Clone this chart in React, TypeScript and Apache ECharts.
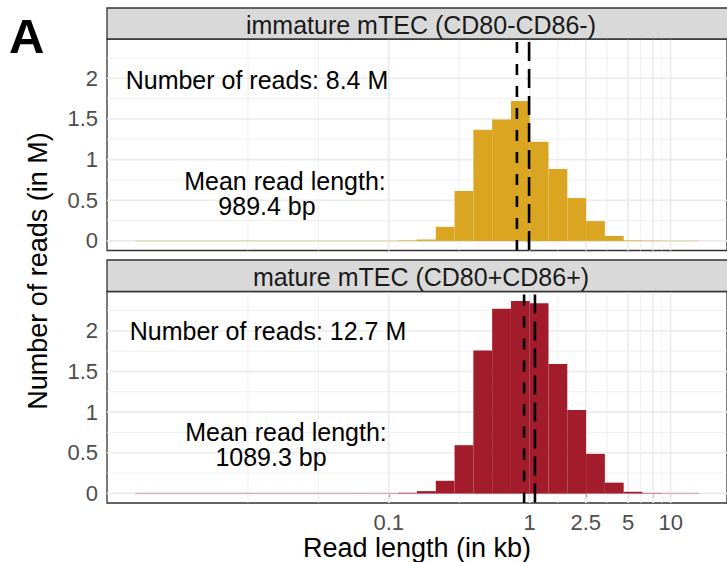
import React, { useEffect, useRef } from "react";
import * as echarts from "echarts";

// Facet titles and fill colours
const panelTitles = ["immature mTEC (CD80-CD86-)", "mature mTEC (CD80+CD86+)"];
const panelColors = ["#DAA520", "#A31C2B"];

// Histogram bins: 30 equal steps on log10(read length in kb)
const binLowLog10 = -2.8;
const binHighLog10 = 1.2;

// Reads per bin, in millions
const immatureCounts = [
  0, 0, 0, 0, 0, 0, 0, 0, 0, 0, 0, 0, 0, 0,
  0.004, 0.017, 0.173, 0.614, 1.367, 1.494, 1.72, 1.218, 0.885, 0.527, 0.243, 0.06, 0.006, 0.002, 0, 0,
];
const matureCounts = [
  0, 0, 0, 0, 0, 0, 0, 0, 0, 0, 0, 0, 0, 0,
  0.006, 0.028, 0.155, 0.593, 1.758, 2.27, 2.365, 2.339, 1.59, 1.026, 0.486, 0.132, 0.02, 0.003, 0, 0,
];

// Summary statistics per population
const readTotalLabels = ["Number of reads: 8.4 M", "Number of reads: 12.7 M"];
const meanLengthLabels = ["989.4 bp", "1089.3 bp"];
const meanLengthKb = [0.9894, 1.0893];
const medianLengthKb = [0.811, 0.912];

// Axis breaks
const xBreaksKb = [0.1, 1, 2.5, 5, 7.5, 10];
const xLabelKb = [0.1, 1, 2.5, 5, 10];
const yBreaks = [0, 0.5, 1, 1.5, 2];
const yMinorBreaks = [0.25, 0.75, 1.25, 1.75, 2.25];

const FONT = "'Liberation Sans', Arial, Helvetica, sans-serif";
const X_MIN = -3;
const X_MAX = 1.4;

const log10 = (v: number) => Math.log10(v);

function minorFromMajor(majors: number[]): number[] {
  const ext = [majors[0] - (majors[1] - majors[0]), ...majors];
  const out: number[] = [ext[0]];
  for (let i = 0; i < ext.length - 1; i++) out.push((ext[i] + ext[i + 1]) / 2);
  return out;
}

export default function App() {
  const ref = useRef<HTMLDivElement>(null);

  useEffect(() => {
    if (!ref.current) return;
    const chart = echarts.init(ref.current, undefined, { renderer: "svg" });

    const counts = [immatureCounts, matureCounts];
    const peak = Math.max(...immatureCounts, ...matureCounts);
    const yMin = -0.05 * peak;
    const yMax = 1.05 * peak;
    const nBins = immatureCounts.length;
    const binW = (binHighLog10 - binLowLog10) / nBins;

    const xMajorLog = xBreaksKb.map(log10);
    const xMinorLog = minorFromMajor(xMajorLog);
    const xLabelLog = xLabelKb.map(log10);

    const grids = [
      { left: 107, right: -8, top: 39, height: 211.5 },
      { left: 107, right: -8, top: 291.5, height: 211.5 },
    ].map((g) => ({
      ...g,
      show: true,
      borderColor: "#333333",
      borderWidth: 1.3,
      backgroundColor: "#ffffff",
    }));

    const xAxes = [0, 1].map((i) => ({
      type: "value",
      gridIndex: i,
      min: X_MIN,
      max: X_MAX,
      axisLine: { show: false },
      splitLine: { show: false },
      axisTick: {
        show: i === 1,
        customValues: xMajorLog,
        length: 4,
        lineStyle: { color: "#333333", width: 1.2 },
      },
      axisLabel: {
        show: i === 1,
        customValues: xLabelLog,
        margin: 8,
        color: "#4D4D4D",
        fontSize: 22,
        fontFamily: FONT,
        formatter: (v: number) => {
          let best = xLabelKb[0];
          let d = Infinity;
          xLabelKb.forEach((k) => {
            const dd = Math.abs(log10(k) - v);
            if (dd < d) { d = dd; best = k; }
          });
          return String(best);
        },
      },
      name: i === 1 ? "Read length (in kb)" : "",
      nameLocation: "middle",
      nameGap: 31,
      nameTextStyle: { color: "#000000", fontSize: 27, fontFamily: FONT },
    }));

    const yAxes = [0, 1].map((i) => ({
      type: "value",
      gridIndex: i,
      min: yMin,
      max: yMax,
      axisLine: { show: false },
      splitLine: { show: false },
      axisTick: {
        show: true,
        customValues: yBreaks,
        length: 4,
        lineStyle: { color: "#333333", width: 1.2 },
      },
      axisLabel: {
        customValues: yBreaks,
        margin: 9,
        color: "#4D4D4D",
        fontSize: 22,
        fontFamily: FONT,
        formatter: (v: number) => String(v),
      },
    }));

    const series: any[] = [];
    [0, 1].forEach((p) => {
      // panel grid lines
      const gridData: number[][] = [
        ...xMajorLog.map((v) => [v, 0, 1]),
        ...xMinorLog.map((v) => [v, 0, 0]),
        ...yBreaks.map((v) => [v, 1, 1]),
        ...yMinorBreaks.map((v) => [v, 1, 0]),
      ];
      series.push({
        type: "custom",
        xAxisIndex: p,
        yAxisIndex: p,
        z: 1,
        silent: true,
        data: gridData,
        renderItem: (params: any, api: any) => {
          const cs = params.coordSys;
          const v = api.value(0);
          const dir = api.value(1);
          const major = api.value(2) === 1;
          const style = { stroke: "#EBEBEB", lineWidth: major ? 1.6 : 0.8 };
          if (dir === 0) {
            const px = api.coord([v, 0])[0];
            return { type: "line", shape: { x1: px, y1: cs.y, x2: px, y2: cs.y + cs.height }, style };
          }
          const py = api.coord([0, v])[1];
          return { type: "line", shape: { x1: cs.x, y1: py, x2: cs.x + cs.width, y2: py }, style };
        },
      });

      // histogram bars
      const color = panelColors[p];
      series.push({
        type: "custom",
        xAxisIndex: p,
        yAxisIndex: p,
        z: 2,
        silent: true,
        data: counts[p].map((c, i) => [binLowLog10 + i * binW, binLowLog10 + (i + 1) * binW, c]),
        renderItem: (_params: any, api: any) => {
          const lo = api.value(0);
          const hi = api.value(1);
          const v = api.value(2);
          const p0 = api.coord([lo, 0]);
          const p1 = api.coord([hi, v]);
          const children: any[] = [
            {
              type: "line",
              shape: { x1: p0[0], y1: p0[1], x2: p1[0], y2: p0[1] },
              style: { stroke: color, opacity: 0.3, lineWidth: 1.2 },
            },
          ];
          if (v > 0) {
            children.push({
              type: "rect",
              shape: { x: p0[0], y: p1[1], width: p1[0] - p0[0], height: p0[1] - p1[1] },
              style: { fill: color },
            });
          }
          return { type: "group", children };
        },
      });

      // median (short dashes) and mean (long dashes)
      series.push({
        type: "custom",
        xAxisIndex: p,
        yAxisIndex: p,
        z: 3,
        silent: true,
        data: [
          [log10(medianLengthKb[p]), 0],
          [log10(meanLengthKb[p]), 1],
        ],
        renderItem: (params: any, api: any) => {
          const cs = params.coordSys;
          const px = api.coord([api.value(0), 0])[0];
          const isMean = api.value(1) === 1;
          return {
            type: "line",
            shape: { x1: px, y1: cs.y + 3, x2: px, y2: cs.y + cs.height },
            style: {
              stroke: "#000000",
              lineWidth: 2.6,
              lineDash: isMean ? [19, 8] : [11, 11],
            },
          };
        },
      });
    });

    const stripTops = [8, 260];
    const stripHeight = [31, 31.5];
    const graphic: any[] = [];
    [0, 1].forEach((p) => {
      graphic.push({
        type: "rect",
        shape: { x: 107, y: stripTops[p], width: 628, height: stripHeight[p] },
        style: { fill: "#D9D9D9", stroke: "#333333", lineWidth: 1.3 },
        z: 10,
      });
      graphic.push({
        type: "text",
        x: 421,
        y: stripTops[p] + stripHeight[p] / 2 + 1,
        style: {
          text: panelTitles[p],
          fill: "#1A1A1A",
          fontSize: 25,
          fontFamily: FONT,
          textAlign: "center",
          textVerticalAlign: "middle",
        },
        z: 11,
      });
    });

    const totals = [
      { x: 257, y: 80 },
      { x: 268, y: 331 },
    ];
    const meanBlocks = [
      { x: 285, y: 193, shift: 36 },
      { x: 286, y: 444, shift: 30 },
    ];
    [0, 1].forEach((p) => {
      graphic.push({
        type: "text",
        x: totals[p].x,
        y: totals[p].y,
        style: {
          text: readTotalLabels[p],
          fill: "#000000",
          fontSize: 25,
          fontFamily: FONT,
          textAlign: "center",
          textVerticalAlign: "middle",
        },
        z: 12,
      });
      graphic.push({
        type: "text",
        x: meanBlocks[p].x,
        y: meanBlocks[p].y,
        style: {
          text: `{a|Mean read length:}\n{b|${meanLengthLabels[p]}}`,
          fill: "#000000",
          fontSize: 25,
          fontFamily: FONT,
          textAlign: "center",
          textVerticalAlign: "middle",
          rich: {
            a: { fontSize: 25, fontFamily: FONT, lineHeight: 25, fill: "#000000" },
            b: {
              fontSize: 25,
              fontFamily: FONT,
              lineHeight: 25,
              fill: "#000000",
              padding: [0, meanBlocks[p].shift, 0, 0],
            },
          },
        },
        z: 12,
      });
    });

    graphic.push({
      type: "text",
      x: 38,
      y: 271,
      rotation: Math.PI / 2,
      style: {
        text: "Number of reads (in M)",
        fill: "#000000",
        fontSize: 27,
        fontFamily: FONT,
        textAlign: "center",
        textVerticalAlign: "middle",
      },
      z: 12,
    });

    graphic.push({
      type: "text",
      x: 9,
      y: 36,
      style: {
        text: "A",
        fill: "#000000",
        fontSize: 49,
        fontWeight: "bold",
        fontFamily: FONT,
        textAlign: "left",
        textVerticalAlign: "middle",
      },
      z: 12,
    });

    chart.setOption({
      animation: false,
      backgroundColor: "#ffffff",
      grid: grids,
      xAxis: xAxes,
      yAxis: yAxes,
      series,
      graphic,
    });

    return () => chart.dispose();
  }, []);

  return (
    <div
      ref={ref}
      style={{ position: "absolute", left: 0, top: 0, width: 727, height: 562, overflow: "hidden" }}
    />
  );
}
